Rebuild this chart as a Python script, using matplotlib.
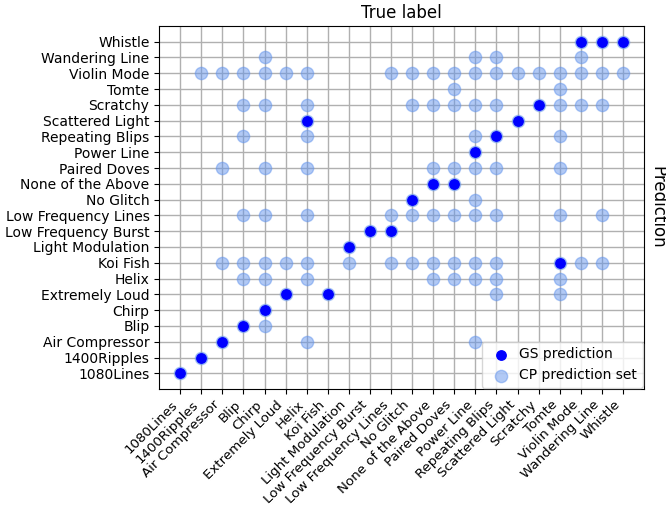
import numpy as np
import matplotlib
matplotlib.use('Agg')
import matplotlib.pyplot as plt

# glitch classes (same order on both axes)
classes = ['1080Lines', '1400Ripples', 'Air Compressor', 'Blip', 'Chirp',
           'Extremely Loud', 'Helix', 'Koi Fish', 'Light Modulation',
           'Low Frequency Burst', 'Low Frequency Lines', 'No Glitch',
           'None of the Above', 'Paired Doves', 'Power Line', 'Repeating Blips',
           'Scattered Light', 'Scratchy', 'Tomte', 'Violin Mode',
           'Wandering Line', 'Whistle']

# GS prediction (class index) for each true label
gs_pred = [0, 1, 2, 3, 4, 5, 16, 5, 8, 9, 9, 11, 12, 12, 14, 15, 16, 17, 7, 21, 21, 21]

# CP prediction set for each true label
cp_sets = [
    [0],
    [1, 19],
    [2, 7, 13, 19],
    [3, 6, 7, 10, 15, 17, 19],
    [3, 4, 6, 7, 10, 13, 17, 19, 20],
    [5, 7, 19],
    [2, 6, 7, 10, 13, 15, 16, 17, 19],
    [5],
    [7, 8],
    [9],
    [7, 9, 10, 19],
    [7, 10, 11, 17, 19],
    [6, 7, 10, 12, 13, 17, 19],
    [6, 7, 10, 12, 13, 17, 18, 19],
    [2, 6, 7, 10, 11, 13, 14, 15, 17, 19, 20],
    [5, 6, 7, 10, 13, 15, 17, 19, 20],
    [16, 19],
    [17, 19],
    [5, 6, 7, 10, 13, 15, 17, 18, 19],
    [7, 17, 19, 20, 21],
    [7, 10, 17, 19, 21],
    [19, 21],
]

n = len(classes)
cp_x = [i for i, s in enumerate(cp_sets) for _ in s]
cp_y = [p for s in cp_sets for p in s]

fig = plt.figure(figsize=(6.66, 5.08), dpi=100)
ax = fig.add_axes([0.239, 0.234, 0.728, 0.715])

ax.scatter(cp_x, cp_y, s=78, color='cornflowerblue', alpha=0.5,
           label='CP prediction set', zorder=2)
ax.scatter(np.arange(n), gs_pred, s=46, color='blue',
           label='GS prediction', zorder=3)

ax.set_xticks(np.arange(n))
ax.set_xticklabels(classes, rotation=45, ha='right', fontsize=9.6)
ax.tick_params(axis='x', pad=3)
ax.set_yticks(np.arange(n))
ax.set_yticklabels(classes)
ax.set_xlim(-1, n)
ax.set_ylim(-1, n)
ax.grid(True, color='#b0b0b0', linewidth=1)
ax.set_axisbelow(True)

ax.set_title('True label', fontsize=12)
ax.yaxis.set_label_position('right')
ax.set_ylabel('Prediction', fontsize=12, rotation=270, labelpad=16)

handles, labels = ax.get_legend_handles_labels()
ax.legend(handles[::-1], labels[::-1], loc='lower right', fontsize=10,
          handletextpad=0.3, borderaxespad=0.1)

fig.savefig('out.png', dpi=100)
